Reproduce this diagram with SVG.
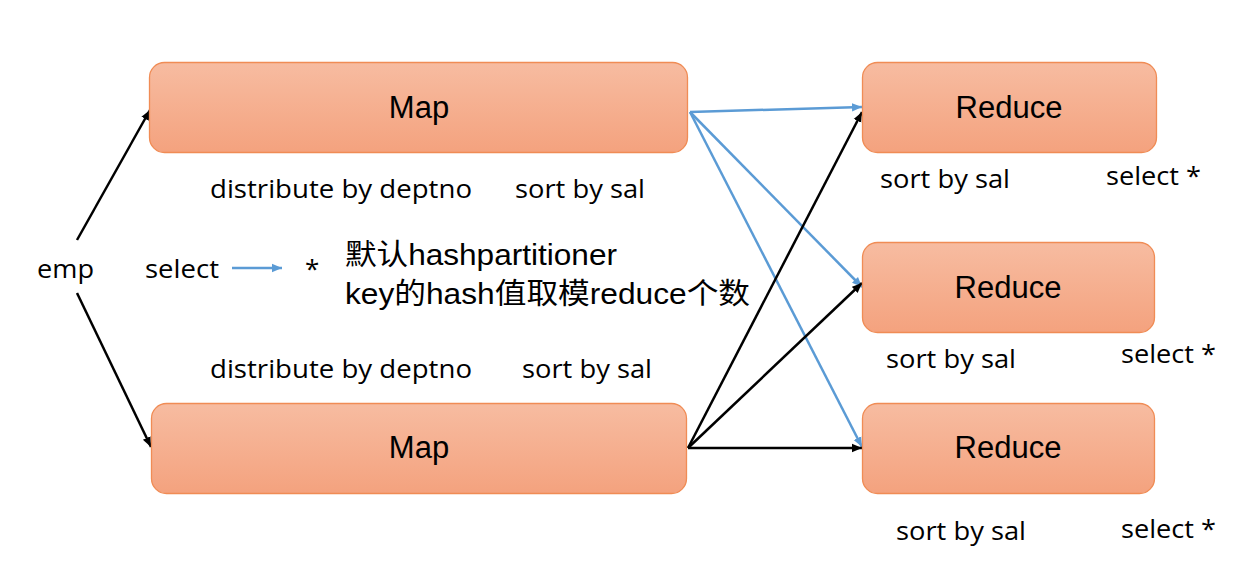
<svg xmlns="http://www.w3.org/2000/svg" width="1241" height="565" viewBox="0 0 1241 565">
<style>
.box{fill:url(#g);stroke:#F08C55;stroke-width:1.3}
.t{font-family:"Open Sans","Noto Sans",sans-serif;font-size:26px;fill:#000}
.n{font-family:"Liberation Sans",Arial,sans-serif;font-size:31px;fill:#000}
.c{font-family:"Liberation Sans","Noto Sans CJK SC",sans-serif;font-size:29px;fill:#000}
.bl{stroke:#5B9BD5;stroke-width:2.5;fill:none;marker-end:url(#ab)}
.bk{stroke:#000;stroke-width:2.5;fill:none;marker-end:url(#ak)}
</style>
<defs>
<linearGradient id="g" x1="0" y1="0" x2="0" y2="1">
<stop offset="0" stop-color="#F7BCA1"/>
<stop offset="1" stop-color="#F4A27E"/>
</linearGradient>
<marker id="ab" viewBox="0 0 10 10" refX="10" refY="5" markerWidth="4" markerHeight="4" orient="auto" markerUnits="strokeWidth"><path d="M0,0.8L10,5L0,9.2z" fill="#5B9BD5"/></marker>
<marker id="ak" viewBox="0 0 10 10" refX="10" refY="5" markerWidth="4" markerHeight="4" orient="auto" markerUnits="strokeWidth"><path d="M0,0.8L10,5L0,9.2z" fill="#000"/></marker>
</defs>
<g id="connectors">
<line class="bk" x1="77" y1="240" x2="150" y2="110"/>
<line class="bk" x1="77" y1="293" x2="151" y2="447"/>
<line class="bl" x1="232" y1="268" x2="282" y2="268"/>
<line class="bl" x1="690" y1="112" x2="862" y2="107"/>
<line class="bl" x1="690" y1="112" x2="862" y2="287"/>
<line class="bl" x1="690" y1="112" x2="862" y2="447"/>
<line class="bk" x1="688" y1="448" x2="862" y2="112"/>
<line class="bk" x1="688" y1="448" x2="862" y2="283"/>
<line class="bk" x1="688" y1="448" x2="862" y2="448"/>
</g>
<g id="map1"><rect class="box" x="149.5" y="62.5" width="538" height="90" rx="15"/><text class="n" x="419" y="118" text-anchor="middle">Map</text></g>
<g id="map2"><rect class="box" x="151.5" y="403.5" width="535" height="90" rx="15"/><text class="n" x="419" y="458" text-anchor="middle">Map</text></g>
<g id="reduce1"><rect class="box" x="862.5" y="62.5" width="294" height="90" rx="15"/><text class="n" x="1009" y="118" text-anchor="middle">Reduce</text></g>
<g id="reduce2"><rect class="box" x="862.5" y="242.5" width="292" height="90" rx="15"/><text class="n" x="1008" y="298" text-anchor="middle">Reduce</text></g>
<g id="reduce3"><rect class="box" x="862.5" y="403.5" width="292" height="90" rx="15"/><text class="n" x="1008" y="458" text-anchor="middle">Reduce</text></g>
<g id="labels">
<text class="t" x="210" y="198" textLength="262" lengthAdjust="spacingAndGlyphs">distribute by deptno</text>
<text class="t" x="515" y="198" textLength="130" lengthAdjust="spacingAndGlyphs">sort by sal</text>
<text class="t" x="210" y="378" textLength="262" lengthAdjust="spacingAndGlyphs">distribute by deptno</text>
<text class="t" x="522" y="378" textLength="130" lengthAdjust="spacingAndGlyphs">sort by sal</text>
<text class="t" x="37" y="278" textLength="57" lengthAdjust="spacingAndGlyphs">emp</text>
<text class="t" x="145" y="278" textLength="74" lengthAdjust="spacingAndGlyphs">select</text>
<text class="t" x="305" y="278">*</text>
<text class="c" x="345" y="265" textLength="272" lengthAdjust="spacingAndGlyphs">默认hashpartitioner</text>
<text class="c" x="345" y="304" textLength="405" lengthAdjust="spacingAndGlyphs">key的hash值取模reduce个数</text>
<text class="t" x="880" y="188" textLength="130" lengthAdjust="spacingAndGlyphs">sort by sal</text>
<text class="t" x="1106" y="185" textLength="95" lengthAdjust="spacingAndGlyphs">select *</text>
<text class="t" x="886" y="368" textLength="130" lengthAdjust="spacingAndGlyphs">sort by sal</text>
<text class="t" x="1121" y="363" textLength="95" lengthAdjust="spacingAndGlyphs">select *</text>
<text class="t" x="896" y="540" textLength="130" lengthAdjust="spacingAndGlyphs">sort by sal</text>
<text class="t" x="1121" y="538" textLength="95" lengthAdjust="spacingAndGlyphs">select *</text>
</g>
</svg>
